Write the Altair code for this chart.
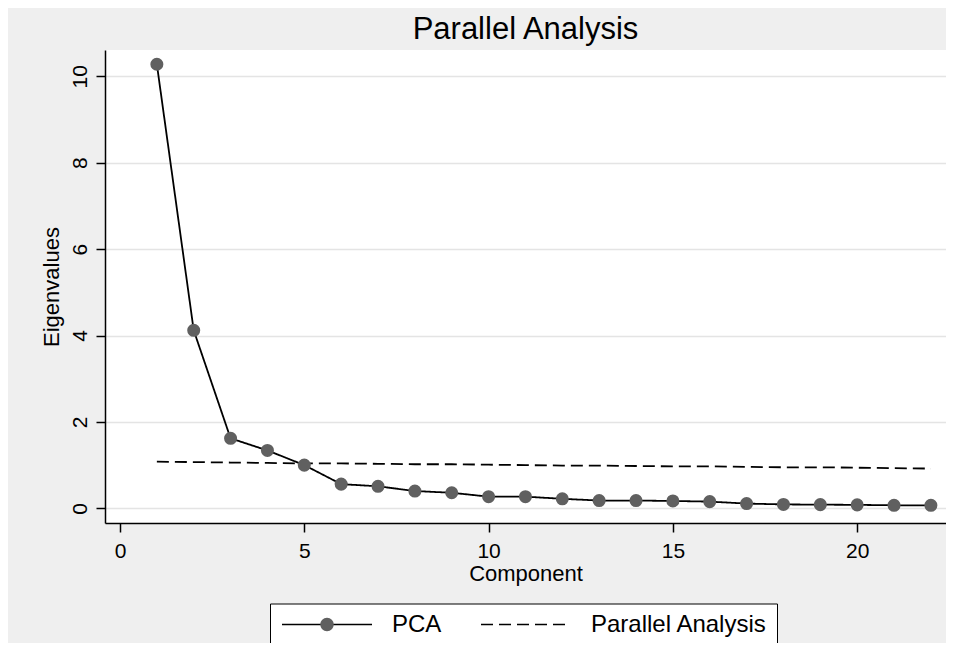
import altair as alt
import pandas as pd

components = list(range(1, 23))
pca_eigen = [10.28, 4.12, 1.62, 1.34, 1.00, 0.56, 0.51, 0.40, 0.36, 0.27, 0.27,
             0.22, 0.18, 0.18, 0.17, 0.155, 0.11, 0.09, 0.085, 0.08, 0.07, 0.07]
parallel_eigen = [1.08, 1.07, 1.06, 1.05, 1.04, 1.04, 1.03, 1.02, 1.02, 1.01, 1.00,
                  0.99, 0.99, 0.98, 0.97, 0.97, 0.96, 0.95, 0.95, 0.94, 0.93, 0.92]
series_names = ["PCA", "Parallel Analysis"]
x_ticks = [0, 5, 10, 15, 20]
y_ticks = [0, 2, 4, 6, 8, 10]

rows = []
for c, v in zip(components, pca_eigen):
    rows.append({"component": c, "eigen": v, "series": series_names[0]})
for c, v in zip(components, parallel_eigen):
    rows.append({"component": c, "eigen": v, "series": series_names[1]})
df = pd.DataFrame(rows)
df["series_b"] = df["series"]

FONT = "Liberation Sans"
DOT = "#606060"

x_enc = alt.X("component:Q", title="Component",
              scale=alt.Scale(domain=[-0.407, 22.41], nice=False, zero=False),
              axis=alt.Axis(values=x_ticks, grid=False, format="d"))
y_enc = alt.Y("eigen:Q", title="Eigenvalues",
              scale=alt.Scale(domain=[-0.34, 10.61], nice=False, zero=False),
              axis=alt.Axis(values=y_ticks, labelAngle=270, format="d"))

legend_common = dict(
    orient="none", legendX=165, legendY=553.5, direction="horizontal",
    columns=2, title=None, padding=9, symbolSize=400, symbolStrokeWidth=1.5,
    symbolOffset=36, labelFont=FONT, labelFontSize=24, labelColor="black",
    labelOffset=53, columnPadding=36, labelLimit=400,
)

base = alt.Chart(df)

line_path = "M-4.5,0H4.5"
lines = base.mark_line(color="black", strokeWidth=1.8).encode(
    x=x_enc, y=y_enc,
    strokeDash=alt.StrokeDash(
        "series:N",
        scale=alt.Scale(range=[[1, 0], [12, 6]]),
        legend=alt.Legend(symbolType=line_path, fillColor="white",
                          strokeColor="black", symbolStrokeColor="black",
                          **legend_common),
    ),
)

points = base.transform_filter(alt.datum.series == "PCA").mark_circle(
    size=170, color=DOT, opacity=1
).encode(x=x_enc, y=y_enc)

circle_path = "M0.67,0A0.67,0.67 0 1,1 -0.67,0A0.67,0.67 0 1,1 0.67,0Z"
legend_dots = base.mark_point(filled=True, opacity=0, color=DOT).encode(
    x=x_enc, y=y_enc,
    shape=alt.Shape(
        "series_b:N",
        scale=alt.Scale(domain=series_names, range=[circle_path, "M0,0"]),
        legend=alt.Legend(symbolOpacity=1, symbolFillColor=DOT,
                          symbolStrokeColor="transparent", labelOpacity=0,
                          zindex=2, **legend_common),
    ),
)

chart = alt.layer(lines, points, legend_dots).properties(
    width=841, height=473,
    title=alt.TitleParams("Parallel Analysis", font=FONT, fontSize=31,
                          fontWeight="normal", color="black",
                          baseline="bottom", offset=-27, anchor="middle"),
    autosize=alt.AutoSizeParams(type="none"),
    padding={"left": 97, "top": 42, "right": 0, "bottom": 120},
    background="#efefef",
).configure_view(
    fill="white", stroke=None
).configure_axis(
    labelFont=FONT, titleFont=FONT, labelFontSize=21, titleFontSize=22,
    titleFontWeight="normal", labelColor="black", titleColor="black",
    domainColor="black", domainWidth=1.5, tickColor="black", tickWidth=1.5,
    tickSize=9, gridColor="#e4e4e4", gridWidth=1.5,
).configure_axisX(
    labelPadding=8, titlePadding=2,
).configure_axisY(
    labelPadding=6, titlePadding=6,
)

chart.save("out.html", embed_options={"renderer": "svg", "actions": False})
